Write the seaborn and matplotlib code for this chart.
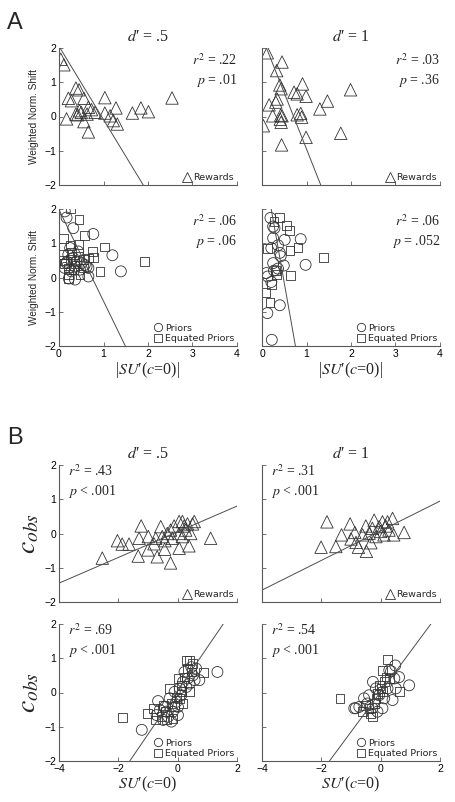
import numpy as np
import pandas as pd
import matplotlib.pyplot as plt
import seaborn as sns
from matplotlib.lines import Line2D

# ---------------- data ----------------
# Panel A, top row: rewards (triangles)
a_rew05_x = [0.04, 0.11, 0.38, 0.45, 0.21, 0.28, 0.56, 1.03, 2.54, 0.66, 1.28, 1.84, 2.01, 1.65,
             0.46, 0.50, 0.42, 0.81, 1.03, 1.15, 0.63, 0.17, 0.56, 1.22, 1.31, 0.66, 0.73, 0.38]
a_rew05_y = [1.67, 1.51, 0.83, 0.78, 0.53, 0.46, 0.53, 0.55, 0.54, 0.27, 0.25, 0.25, 0.14, 0.10,
             0.17, 0.12, 0.05, 0.12, 0.10, 0.02, 0.07, -0.07, -0.15, -0.12, -0.22, -0.45, 0.20, 0.07]
a_rew1_x = [0.12, 0.45, 0.33, 0.40, 0.43, 0.91, 0.72, 0.79, 0.99, 1.99, 0.34, 0.31, 0.16, 1.47,
            1.30, 0.24, 0.42, 0.45, 0.79, 0.87, 0.89, 0.43, 0.03, 1.77, 0.99, 0.44, 0.41]
a_rew1_y = [1.86, 1.59, 1.34, 0.92, 0.81, 0.95, 0.71, 0.66, 0.59, 0.78, 0.51, 0.42, 0.34, 0.45,
            0.22, 0.02, 0.04, 0.02, 0.05, 0.09, -0.02, -0.17, -0.27, -0.49, -0.61, -0.83, -0.08]

# Panel A, bottom row: priors (circles) and equated priors (squares)
a_pri05_x = [0.13, 0.17, 0.32, 0.77, 1.20, 1.39, 0.66, 0.36, 0.22, 0.43, 0.62, 0.18,
             0.21, 0.32, 0.17, 0.36, 0.51, 0.28, 0.47, 0.58, 0.25, 0.39, 0.66, 0.13]
a_pri05_y = [1.93, 1.75, 1.44, 1.27, 0.65, 0.18, 0.03, -0.06, -0.03, 0.76, 0.32, 0.46,
             0.67, 0.57, 0.42, 0.32, 0.42, 0.18, 0.23, 0.37, 0.86, 0.47, 0.28, 0.28]
a_eq05_x = [0.25, 0.45, 0.10, 0.58, 1.03, 0.76, 0.43, 0.25, 0.77, 1.92, 0.92, 0.10, 0.21,
            0.21, 0.55, 0.10, 0.28, 0.43, 0.36, 0.55, 0.21, 0.13, 0.66, 0.47, 0.32, 0.25]
a_eq05_y = [2.00, 1.69, 1.15, 1.22, 0.89, 0.76, 0.96, 0.93, 0.59, 0.47, 0.18, 0.50, 0.08,
            -0.02, 0.52, 0.67, 0.72, 0.62, 0.42, 0.28, 0.28, 0.42, 0.57, 0.08, 0.23, 0.52]
a_pri1_x = [0.19, 0.25, 0.28, 0.25, 0.51, 0.87, 0.36, 0.40, 0.42, 0.21, 0.25, 0.49, 0.98,
            0.36, 0.10, 0.13, 0.21, 0.40, 0.12, 0.22, 0.27]
a_pri1_y = [1.74, 1.49, 1.44, 1.15, 1.10, 1.12, 0.94, 0.72, 0.62, 0.86, 0.42, 0.35, 0.37,
            0.26, 0.13, 0.03, -0.13, -0.81, -1.04, -1.82, 0.20]
a_eq1_x = [0.40, 0.27, 0.55, 0.61, 0.13, 0.63, 0.81, 1.38, 0.31, 0.22, 0.64, 0.08, 0.18, 0.32]
a_eq1_y = [1.76, 1.64, 1.51, 1.37, 0.84, 0.79, 0.88, 0.59, 0.21, -0.21, 0.06, -0.43, -0.73, 0.08]

# Panel B, top row: rewards
b_rew05_x = [-2.54, -2.03, -1.87, -1.64, -1.23, -1.30, -1.33, -1.00, -0.99, -0.69, -0.57, -0.44,
             -0.24, 0.05, 0.38, 1.11, -0.80, -0.74, -0.52, -0.35, -0.24, -0.12, 0.05, 0.16,
             0.22, 0.33, 0.50, 0.56, 0.05, 0.16, -0.18, 0.27, 0.44, -0.43]
b_rew05_y = [-0.72, -0.21, -0.31, -0.31, 0.22, -0.14, -0.66, -0.48, -0.09, -0.68, 0.20, -0.46,
             -0.86, -0.43, -0.36, -0.14, -0.30, -0.14, -0.09, 0.00, 0.10, 0.22, 0.35, 0.35,
             0.22, 0.28, 0.28, 0.35, 0.00, -0.09, -0.14, 0.10, 0.00, -0.21]
b_rew1_x = [-1.81, -2.01, -1.51, -1.03, -1.32, -0.87, -1.00, -0.75, -0.48, -0.50, -0.33, -0.22,
            0.06, 0.40, 0.79, 0.44, -0.16, -0.05, 0.17, 0.28, 0.00, 0.11, 0.23, -0.39, -0.61,
            -0.83, -0.28]
b_rew1_y = [0.34, -0.40, -0.38, 0.28, -0.04, 0.03, -0.16, -0.40, -0.52, 0.22, -0.27, 0.39,
            0.34, 0.44, 0.03, -0.04, -0.09, 0.20, 0.22, 0.10, 0.06, -0.04, 0.34, 0.01, -0.04,
            -0.26, 0.15]

# Panel B, bottom row: priors and equated priors
b_pri05_x = [-0.60, -0.43, -0.71, -0.32, -0.16, 0.01, -0.27, -0.10, 0.07, 0.18, 0.34, 0.23,
             0.46, 0.51, -0.04, 0.12, 0.29, -0.49, -0.21, 0.01, 0.40, 0.57, -0.38, -1.21,
             -0.66, 1.34, 0.62, 0.73]
b_pri05_y = [-0.51, -0.42, -0.66, -0.71, -0.56, -0.42, -0.17, 0.02, 0.12, 0.31, 0.41, 0.60,
             0.74, 0.50, -0.27, -0.08, 0.16, -0.80, -0.85, -0.66, 0.26, 0.36, -0.56, -1.09,
             -0.25, 0.60, 0.70, 0.36]
b_eq05_x = [-0.82, -0.54, -0.43, -0.21, -0.10, -0.04, 0.07, 0.12, 0.23, 0.34, 0.51, 0.29, 0.46,
            -0.27, -0.38, -0.16, 0.12, 0.01, -0.76, -0.49, 0.18, 0.40, -1.86, -1.03, 0.40, 0.88]
b_eq05_y = [-0.46, -0.71, -0.56, -0.32, -0.42, -0.13, -0.17, 0.02, 0.45, 0.70, 0.84, 0.94, 0.60,
            0.12, -0.80, -0.75, 0.21, 0.41, -0.80, -0.37, -0.32, 0.02, -0.73, -0.62, 0.94, 0.59]
b_pri1_x = [0.49, 0.96, 0.62, 0.46, 0.35, -0.26, -0.84, -0.72, -0.45, -0.56, -0.11, 0.12,
            0.23, 0.29, -0.05, -0.39, 0.51, -0.16, 0.06, -0.28, -0.89, 0.40]
b_pri1_y = [0.79, 0.21, 0.45, 0.41, 0.62, 0.31, -0.46, -0.42, -0.32, -0.17, -0.56, -0.17,
            0.12, 0.65, -0.08, -0.08, 0.12, 0.12, -0.46, -0.46, -0.46, -0.22]
b_eq1_x = [0.23, -1.37, 0.64, 0.06, -0.61, -0.28, -0.39, -0.16, 0.01, 0.12, 0.18, -0.11,
           -0.22, 0.29, -0.05, -0.50, -0.33, 0.06]
b_eq1_y = [0.97, -0.18, 0.04, 0.65, -0.56, -0.71, -0.46, -0.17, 0.12, 0.31, 0.45, -0.03,
           -0.32, 0.41, 0.21, -0.37, -0.61, 0.02]

# fit lines (intercept, slope)
fit_a = {'rew05': (2.05, -2.14), 'rew1': (2.33, -3.28), 'pri05': (1.98, -2.67), 'pri1': (3.52, -7.35)}
fit_b = {'rew05': (0.05, 0.375), 'rew1': (0.08, 0.433), 'pri05': (0.05, 1.27), 'pri1': (0.02, 1.17)}

stats_a = {'rew05': ('.22', '= .01'), 'rew1': ('.03', '= .36'), 'pri05': ('.06', '= .06'), 'pri1': ('.06', '= .052')}
stats_b = {'rew05': ('.43', '< .001'), 'rew1': ('.31', '< .001'), 'pri05': ('.69', '< .001'), 'pri1': ('.54', '< .001')}

# ---------------- style ----------------
sns.set_style('ticks')
plt.rcParams['font.family'] = ['Liberation Sans', 'DejaVu Sans']
plt.rcParams['mathtext.fontset'] = 'stix'
plt.rcParams['axes.edgecolor'] = '0.35'
plt.rcParams['axes.linewidth'] = 0.8
plt.rcParams['xtick.color'] = '0.35'
plt.rcParams['ytick.color'] = '0.35'
plt.rcParams['xtick.labelcolor'] = 'black'
plt.rcParams['ytick.labelcolor'] = 'black'

EDGE = '0.2'
SERIF = ['Liberation Serif', 'DejaVu Serif']
S_TRI, S_CIR, S_SQ = 80, 62, 40

fig = plt.figure(figsize=(4.56, 8.02), dpi=100)

W = 178 / 456
H = 137 / 802
cols = [59 / 456, 262 / 456]
rows = {'a_top': 1 - 185 / 802, 'a_bot': 1 - 346 / 802, 'b_top': 1 - 602 / 802, 'b_bot': 1 - 761 / 802}


def scatter(ax, x, y, marker, s, label):
    sns.scatterplot(x=x, y=y, ax=ax, marker=marker, s=s, facecolor='none',
                    edgecolor=EDGE, linewidth=0.6, label=label, legend=False)


def panel(ax, fit, stat, panel_b, left, bottom, title):
    ax.axline((0, fit[0]), slope=fit[1], color='0.3', lw=0.7, zorder=1)
    if panel_b:
        ax.set_xlim(-4, 2)
        ax.set_xticks([-4, -2, 0, 2])
    else:
        ax.set_xlim(0, 4)
        ax.set_xticks([0, 1, 2, 3, 4])
    ax.set_ylim(-2, 2)
    ax.set_yticks([-2, -1, 0, 1, 2])
    sns.despine(ax=ax)
    ax.tick_params(direction='in', length=3, width=0.6, labelsize=7.5, pad=2,
                   labelleft=left, labelbottom=bottom)
    txt = '$r^2$ = ' + stat[0] + '\n$p$ ' + stat[1]
    if panel_b:
        ax.text(0.05, 1.01, txt, transform=ax.transAxes, ha='left', va='top',
                fontsize=10, family=SERIF, linespacing=1.3)
    else:
        ax.text(1.0, 0.97, txt, transform=ax.transAxes, ha='right', va='top',
                fontsize=10, family=SERIF, linespacing=1.3, multialignment='right')
    if title:
        ax.set_title(title, family=SERIF, fontsize=11.5, pad=5)
    ax.set_xlabel('')
    ax.set_ylabel('')


def legend(ax, kind):
    if kind == 'rew':
        handles = [Line2D([], [], marker='^', ls='', mfc='none', mec=EDGE, ms=6.5, mew=0.6)]
        labels = ['Rewards']
    else:
        handles = [Line2D([], [], marker='o', ls='', mfc='none', mec=EDGE, ms=6, mew=0.6),
                   Line2D([], [], marker='s', ls='', mfc='none', mec=EDGE, ms=5.5, mew=0.6)]
        labels = ['Priors', 'Equated Priors']
    ax.legend(handles, labels, loc='lower right', frameon=False, prop={'family': 'DejaVu Sans', 'size': 6.8},
              handletextpad=0.1, borderaxespad=0.1, borderpad=0.2, handlelength=1.2, labelspacing=0.15)


XLAB_A = "|$SU$\u2032($c$=0)|"
XLAB_B = "$SU$\u2032($c$=0)"
TITLE_05 = "$d$\u2032 = .5"
TITLE_1 = "$d$\u2032 = 1"

# ---- Panel A ----
ax = fig.add_axes([cols[0], rows['a_top'], W, H])
scatter(ax, a_rew05_x, a_rew05_y, '^', S_TRI, 'Rewards')
panel(ax, fit_a['rew05'], stats_a['rew05'], False, True, False, TITLE_05)
legend(ax, 'rew')
ax.set_ylabel('Weighted Norm. Shift', fontsize=7.2, labelpad=4)

ax = fig.add_axes([cols[1], rows['a_top'], W, H])
scatter(ax, a_rew1_x, a_rew1_y, '^', S_TRI, 'Rewards')
panel(ax, fit_a['rew1'], stats_a['rew1'], False, False, False, TITLE_1)
legend(ax, 'rew')

ax = fig.add_axes([cols[0], rows['a_bot'], W, H])
scatter(ax, a_pri05_x, a_pri05_y, 'o', S_CIR, 'Priors')
scatter(ax, a_eq05_x, a_eq05_y, 's', S_SQ, 'Equated Priors')
panel(ax, fit_a['pri05'], stats_a['pri05'], False, True, True, None)
legend(ax, 'pri')
ax.set_ylabel('Weighted Norm. Shift', fontsize=7.2, labelpad=4)
ax.set_xlabel(XLAB_A, fontsize=11.5, family=SERIF, labelpad=1)

ax = fig.add_axes([cols[1], rows['a_bot'], W, H])
scatter(ax, a_pri1_x, a_pri1_y, 'o', S_CIR, 'Priors')
scatter(ax, a_eq1_x, a_eq1_y, 's', S_SQ, 'Equated Priors')
panel(ax, fit_a['pri1'], stats_a['pri1'], False, False, True, None)
legend(ax, 'pri')
ax.set_xlabel(XLAB_A, fontsize=11.5, family=SERIF, labelpad=1)

# ---- Panel B ----
ax = fig.add_axes([cols[0], rows['b_top'], W, H])
scatter(ax, b_rew05_x, b_rew05_y, '^', S_TRI, 'Rewards')
panel(ax, fit_b['rew05'], stats_b['rew05'], True, True, False, TITLE_05)
legend(ax, 'rew')
ax.set_ylabel('$c_{obs}$', fontsize=20, labelpad=2)

ax = fig.add_axes([cols[1], rows['b_top'], W, H])
scatter(ax, b_rew1_x, b_rew1_y, '^', S_TRI, 'Rewards')
panel(ax, fit_b['rew1'], stats_b['rew1'], True, False, False, TITLE_1)
legend(ax, 'rew')

ax = fig.add_axes([cols[0], rows['b_bot'], W, H])
scatter(ax, b_pri05_x, b_pri05_y, 'o', S_CIR, 'Priors')
scatter(ax, b_eq05_x, b_eq05_y, 's', S_SQ, 'Equated Priors')
panel(ax, fit_b['pri05'], stats_b['pri05'], True, True, True, None)
legend(ax, 'pri')
ax.set_ylabel('$c_{obs}$', fontsize=20, labelpad=2)
ax.set_xlabel(XLAB_B, fontsize=11.5, family=SERIF, labelpad=1)

ax = fig.add_axes([cols[1], rows['b_bot'], W, H])
scatter(ax, b_pri1_x, b_pri1_y, 'o', S_CIR, 'Priors')
scatter(ax, b_eq1_x, b_eq1_y, 's', S_SQ, 'Equated Priors')
panel(ax, fit_b['pri1'], stats_b['pri1'], True, False, True, None)
legend(ax, 'pri')
ax.set_xlabel(XLAB_B, fontsize=11.5, family=SERIF, labelpad=1)

fig.text(0.015, 0.985, 'A', fontsize=17, va='top', ha='left')
fig.text(0.015, 0.468, 'B', fontsize=17, va='top', ha='left')

fig.savefig('out.png', dpi=100)
